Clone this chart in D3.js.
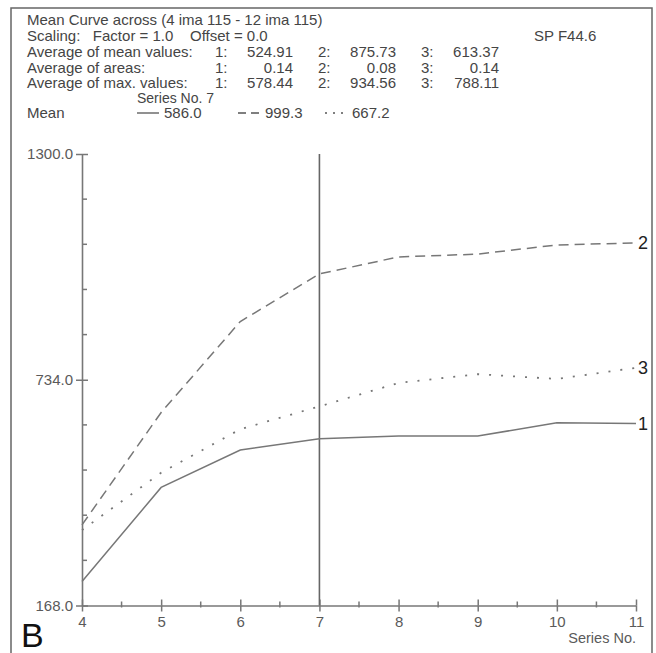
<!DOCTYPE html>
<html>
<head>
<meta charset="utf-8">
<script src="https://cdn.jsdelivr.net/npm/d3@7"></script>
<style>
  html, body { margin: 0; padding: 0; background: #fff; }
  svg { display: block; font-family: Arial, "Liberation Sans", sans-serif; }
  .hdr { font-size: 15px; fill: #454545; }
  .tick text { font-size: 15px; fill: #5a5a5a; font-family: Arial, "Liberation Sans", sans-serif; }
</style>
</head>
<body>
<svg id="chart" width="656" height="653"></svg>
<script>
// ── Data ───────────────────────────────────────────────────────────────────
const seriesNo = [4, 5, 6, 7, 8, 9, 10, 11];
const curve1 = [228, 464, 558, 586.0, 593, 593, 626, 624];
const curve2 = [370, 652, 880, 999.3, 1042, 1049, 1072, 1077];
const curve3 = [357, 501, 610, 667.2, 726, 748, 736, 764];
const yTickValues = [168, 734, 1300];
const xTickValues = [4, 5, 6, 7, 8, 9, 10, 11];
const cursorSeries = 7;

const headerLines = [
  'Mean Curve across (4 ima 115 - 12 ima 115)',
  'Scaling:   Factor = 1.0    Offset = 0.0'
];
const statLabels = ['Average of mean values:', 'Average of areas:', 'Average of max. values:'];
const statValues = [
  ['524.91', '875.73', '613.37'],
  ['0.14', '0.08', '0.14'],
  ['578.44', '934.56', '788.11']
];
const legendValues = ['586.0', '999.3', '667.2'];
const dashStyles = [null, '10,6', '2,10'];

// ── Setup ──────────────────────────────────────────────────────────────────
const svg = d3.select('#chart');
const ink = '#777';

const x = d3.scaleLinear().domain([4, 11]).range([82, 636]);
const y = d3.scaleLinear().domain([168, 1300]).range([605.5, 154]);

// frame
svg.append('rect')
  .attr('x', 11).attr('y', 8)
  .attr('width', 641).attr('height', 660)
  .attr('fill', 'none').attr('stroke', '#666').attr('stroke-width', 1.5);

// ── Header text ───────────────────────────────────────────────────────────
svg.append('text').attr('class', 'hdr').attr('x', 27).attr('y', 25)
  .attr('xml:space', 'preserve').text(headerLines[0]);
svg.append('text').attr('class', 'hdr').attr('x', 27).attr('y', 41)
  .attr('xml:space', 'preserve').text(headerLines[1]);
svg.append('text').attr('class', 'hdr').attr('x', 534).attr('y', 41).text('SP F44.6');

const colX = [215, 318, 421];
statLabels.forEach(function (lab, i) {
  const yy = 57 + i * 15.5;
  svg.append('text').attr('class', 'hdr').attr('x', 27).attr('y', yy).text(lab);
  statValues[i].forEach(function (v, j) {
    svg.append('text').attr('class', 'hdr').attr('x', colX[j]).attr('y', yy).text((j + 1) + ':');
    svg.append('text').attr('class', 'hdr').attr('x', colX[j] + 78).attr('y', yy)
      .attr('text-anchor', 'end').text(v);
  });
});

// legend
svg.append('text').attr('class', 'hdr').attr('x', 137).attr('y', 103)
  .style('font-size', '14px').text('Series No. ' + cursorSeries);
svg.append('text').attr('class', 'hdr').attr('x', 27).attr('y', 118).text('Mean');
const legX = [137, 238, 325];
legendValues.forEach(function (v, i) {
  svg.append('line')
    .attr('x1', legX[i]).attr('x2', legX[i] + 22)
    .attr('y1', 113).attr('y2', 113)
    .attr('stroke', '#555').attr('stroke-width', 1.3)
    .attr('stroke-dasharray', i === 1 ? '8,5' : i === 2 ? '2,6' : null);
  svg.append('text').attr('class', 'hdr').attr('x', legX[i] + 27).attr('y', 118).text(v);
});

// ── Axes ──────────────────────────────────────────────────────────────────
const yAxis = svg.append('g')
  .attr('transform', 'translate(' + x(4) + ',0)')
  .call(d3.axisLeft(y).tickValues(yTickValues).tickSize(6).tickSizeOuter(0)
    .tickFormat(d3.format('.1f')));
yAxis.selectAll('line').clone().attr('x2', 6);

const xAxis = svg.append('g')
  .attr('transform', 'translate(0,' + y(168) + ')')
  .call(d3.axisBottom(x).tickValues(xTickValues).tickSize(6).tickSizeOuter(0)
    .tickFormat(d3.format('d')));
xAxis.selectAll('line').clone().attr('y2', -6);

[yAxis, xAxis].forEach(function (g) {
  g.select('.domain').attr('stroke', ink).attr('stroke-width', 1.6);
  g.selectAll('line').attr('stroke', ink).attr('stroke-width', 1.5);
});
yAxis.selectAll('text').attr('x', -9);
xAxis.selectAll('text').attr('y', 11);

// minor ticks
const yMinor = d3.range(1, 10).filter(function (k) { return k !== 5; })
  .map(function (k) { return 168 + k * (1300 - 168) / 10; });
svg.append('g').selectAll('line').data(yMinor).join('line')
  .attr('x1', x(4)).attr('x2', x(4) + 5)
  .attr('y1', d => y(d)).attr('y2', d => y(d))
  .attr('stroke', ink).attr('stroke-width', 1.5);

const xMinor = xTickValues.slice(0, -1).map(d => d + 0.5);
svg.append('g').selectAll('line').data(xMinor).join('line')
  .attr('x1', d => x(d)).attr('x2', d => x(d))
  .attr('y1', y(168) - 4).attr('y2', y(168) + 2)
  .attr('stroke', ink).attr('stroke-width', 1.5);

svg.append('text').attr('x', 636).attr('y', 643).attr('text-anchor', 'end')
  .attr('font-size', 14.5).attr('fill', '#5a5a5a').text('Series No.');

// cursor line
svg.append('line')
  .attr('x1', x(cursorSeries)).attr('x2', x(cursorSeries))
  .attr('y1', y(1300)).attr('y2', y(168))
  .attr('stroke', '#666').attr('stroke-width', 1.6);

// ── Curves ────────────────────────────────────────────────────────────────
const line = d3.line().x(function (d, i) { return x(seriesNo[i]); }).y(d => y(d));
[curve1, curve2, curve3].forEach(function (c, i) {
  svg.append('path')
    .attr('d', line(c))
    .attr('fill', 'none')
    .attr('stroke', ink)
    .attr('stroke-width', i === 2 ? 1.8 : 1.5)
    .attr('stroke-dasharray', dashStyles[i]);
  svg.append('text')
    .attr('x', x(11) + 2).attr('y', y(c[c.length - 1]) + 6)
    .attr('font-size', 18).attr('fill', '#222').text(i + 1);
});

// panel letter
svg.append('text').attr('x', 21).attr('y', 647)
  .attr('font-size', 34).attr('fill', '#111').text('B');
</script>
</body>
</html>
